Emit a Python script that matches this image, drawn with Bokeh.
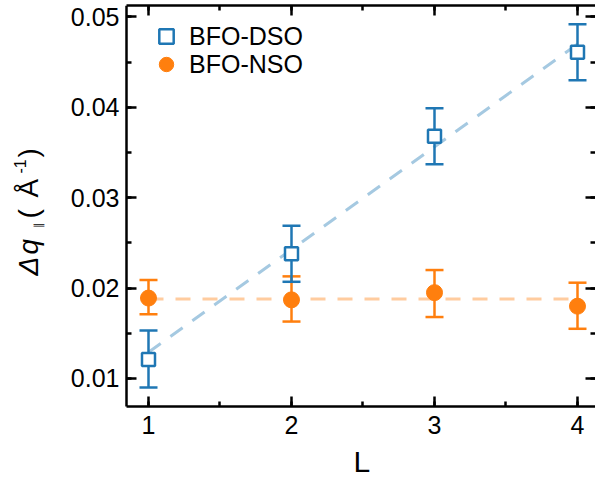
import math
from bokeh.plotting import figure
from bokeh.models import (ColumnDataSource, Whisker, TeeHead, Range1d, LinearAxis,
                          SingleIntervalTicker, Legend, LegendItem, Label)
from bokeh.embed import file_html
from bokeh.resources import INLINE

# ---------------- data ----------------
L = [1, 2, 3, 4]
dso = [0.0121, 0.0238, 0.0368, 0.0461]
dso_lo = [0.0090, 0.0207, 0.0337, 0.0430]
dso_hi = [0.0153, 0.0269, 0.0399, 0.0492]
nso = [0.0189, 0.0187, 0.0195, 0.0180]
nso_lo = [0.0171, 0.0163, 0.0168, 0.0155]
nso_hi = [0.0209, 0.0213, 0.0220, 0.0206]
fit_L = [1, 4]
dso_fit = [0.0129, 0.0470]
nso_fit = [0.0188, 0.0188]
series_names = ["BFO-DSO", "BFO-NSO"]
x_title = "L"

BLUE = "#1f77b4"
ORANGE = "#ff7f0e"
FONT = "Liberation Sans"

# The frame covers the canvas (except a 5px strip on top); the left and bottom
# spines are drawn as fixed-location axes at page x=126 and page y=406.
W, H = 595, 478
FL, FR, FT, FB = 0, W, 5, H       # frame edges in page pixels
SPINE_X, SPINE_Y = 126, 406
X0, X1 = -0.03497, 4.1259
Y0, Y1 = -0.001065, 0.05127


def xd(px):
    return X0 + (px - FL) * (X1 - X0) / (FR - FL)


def yd(py):
    return Y1 - (py - FT) * (Y1 - Y0) / (FB - FT)


def mid(baseline, fs):
    # centre of the text box, given where the baseline should be
    return baseline - 0.3465 * fs


XS, YS = xd(SPINE_X), yd(SPINE_Y)

p = figure(width=W, height=H, output_backend="svg", toolbar_location=None,
           x_range=Range1d(X0, X1), y_range=Range1d(Y0, Y1),
           min_border_left=0, min_border_right=0, min_border_top=FT,
           min_border_bottom=0)
p.outline_line_color = None
p.xgrid.visible = False
p.ygrid.visible = False
p.background_fill_color = "white"
p.border_fill_color = "white"

xticker = SingleIntervalTicker(interval=1, num_minor_ticks=2)
yticker = SingleIntervalTicker(interval=0.01, num_minor_ticks=2)


def style(ax, show_labels=True, show_line=True):
    ax.axis_line_width = 2.5
    ax.axis_line_color = "black" if show_line else None
    ax.major_tick_in = 10
    ax.major_tick_out = 0
    ax.minor_tick_in = 5
    ax.minor_tick_out = 0
    ax.major_tick_line_width = 2.5
    ax.minor_tick_line_width = 2.5
    ax.major_tick_line_color = "black"
    ax.minor_tick_line_color = "black"
    ax.major_label_text_font = FONT
    if show_labels:
        ax.major_label_text_font_size = "25px"
        ax.major_label_text_color = "black"
    else:
        ax.major_label_text_font_size = "1px"
        ax.major_label_text_color = None
        ax.major_label_standoff = 0


bx = p.xaxis[0]
bx.ticker = xticker
bx.fixed_location = YS
bx.bounds = (XS, X1)
style(bx)
bx.major_label_standoff = 9

ly = p.yaxis[0]
ly.ticker = yticker
ly.fixed_location = XS
ly.bounds = (YS, Y1)
style(ly)
ly.major_label_standoff = 7

tx = LinearAxis(ticker=xticker, bounds=(XS, X1))
style(tx, show_labels=False)
p.add_layout(tx, "above")

ry = LinearAxis(ticker=yticker, bounds=(YS, Y1))
style(ry, show_labels=False, show_line=False)
p.add_layout(ry, "right")

# fit lines
p.line(fit_L, dso_fit, line_color=BLUE, line_alpha=0.4, line_width=3, line_dash="15 12")
p.line(fit_L, nso_fit, line_color=ORANGE, line_alpha=0.4, line_width=3, line_dash="15 12")

# error bars
src_d = ColumnDataSource(dict(x=L, y=dso, lo=dso_lo, hi=dso_hi))
src_n = ColumnDataSource(dict(x=L, y=nso, lo=nso_lo, hi=nso_hi))
for src, col in ((src_n, ORANGE), (src_d, BLUE)):
    w = Whisker(base="x", lower="lo", upper="hi", source=src,
                line_color=col, line_width=2.5,
                upper_head=TeeHead(size=18, line_color=col, line_width=2.5),
                lower_head=TeeHead(size=18, line_color=col, line_width=2.5))
    p.add_layout(w)

r_d = p.scatter("x", "y", source=src_d, marker="square", size=13,
                fill_color="white", line_color=BLUE, line_width=2.5)
r_n = p.scatter("x", "y", source=src_n, marker="circle", size=16,
                fill_color=ORANGE, line_color=ORANGE, line_width=1)

# legend: one box per entry so the row spacing can be set freely
for name, rend, center_y in ((series_names[0], r_d, 36.5), (series_names[1], r_n, 63.5)):
    lg = Legend(items=[LegendItem(label=name, renderers=[rend])],
                location=(SPINE_X - FL + 22, int(round(FB - (center_y - 18) - 36))),
                orientation="vertical",
                glyph_width=36, glyph_height=36, label_standoff=5,
                padding=0, margin=0, border_line_color=None,
                background_fill_alpha=0,
                label_text_font=FONT, label_text_font_size="25px",
                label_text_color="black")
    p.add_layout(lg)

# x-axis title (baseline at page y=471)
p.add_layout(Label(x=xd(353), y=yd(mid(471, 30)), text=x_title, text_align="left",
                   text_baseline="middle", text_font=FONT,
                   text_font_size="30px", text_color="black"))

# y-axis title built from pieces (rotated): text, page y of start, page x of baseline
pieces = [
    ("\u0394", 275, 38, 28, "italic"),
    ("q", 254, 38, 28, "italic"),
    ("\u2225", 227, 41, 11, "normal"),
    ("(", 218, 38, 28, "normal"),
    ("\u00c5", 197, 38, 28, "normal"),
    ("-1", 173, 25, 16, "normal"),
    (")", 157, 38, 28, "normal"),
]
for txt, py, px, fs, st in pieces:
    p.add_layout(Label(x=xd(mid(px, fs)), y=yd(py), x_units="data", y_units="data",
                       text=txt, angle=math.pi / 2, text_align="left",
                       text_baseline="middle", text_font=FONT,
                       text_font_size=f"{fs}px", text_font_style=st,
                       text_color="black"))

open("out.html", "w").write(file_html(p, INLINE))
